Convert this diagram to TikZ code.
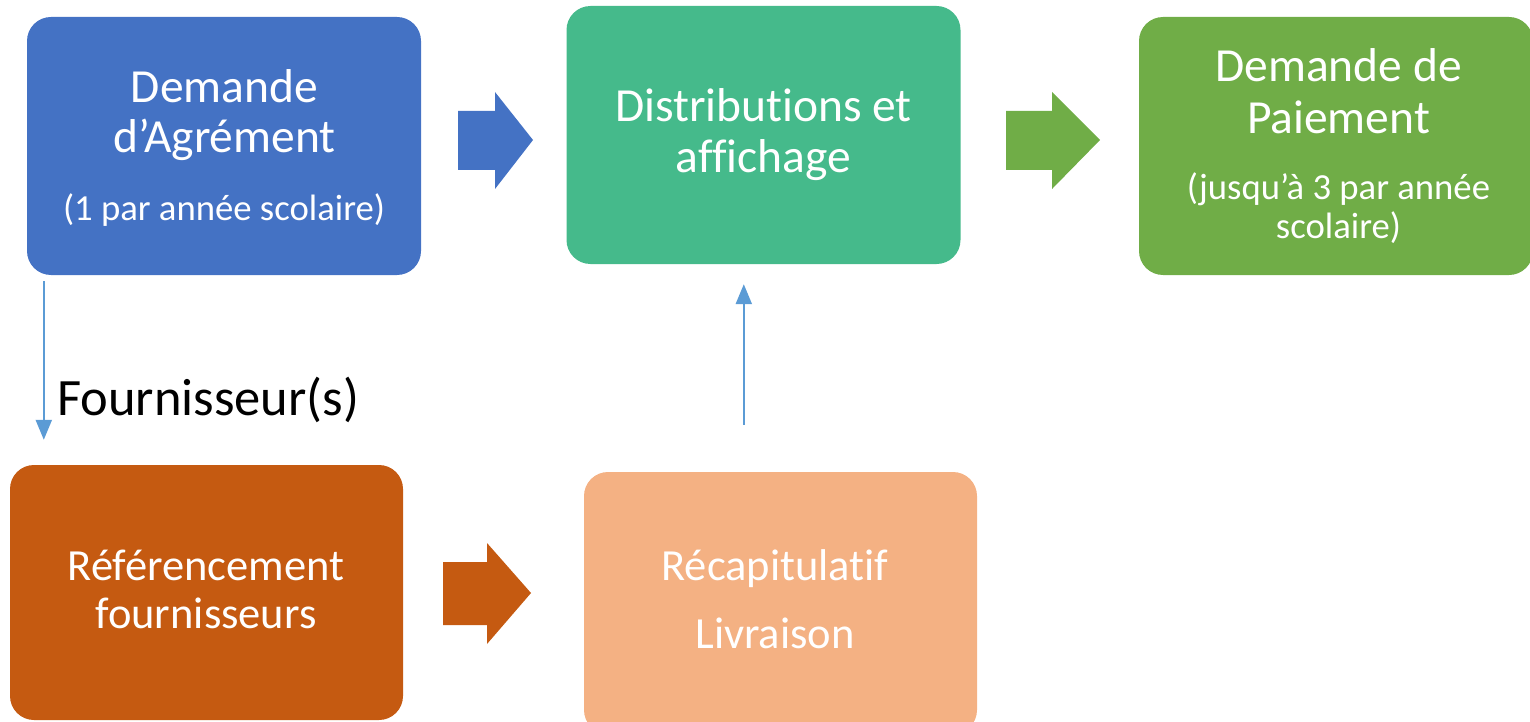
\documentclass[tikz,border=0pt]{standalone}
\usepackage{fontspec}
\setmainfont{Carlito}[Ligatures=NoCommon]
\usetikzlibrary{arrows.meta,calc}
\definecolor{cblue}{HTML}{4472C4}
\definecolor{cteal}{HTML}{45BA8B}
\definecolor{cgreen}{HTML}{70AD47}
\definecolor{corange}{HTML}{C55A11}
\definecolor{clight}{HTML}{F4B183}
\definecolor{cline}{HTML}{5B9BD5}
\tikzset{
  box/.style={rounded corners=24pt, minimum width=394pt, minimum height=258pt, inner sep=0pt},
  big/.style={anchor=base, inner sep=0pt, text=white, font=\fontsize{47.5}{50}\selectfont},
  mid/.style={anchor=base, inner sep=0pt, text=white, font=\fontsize{44.5}{50}\selectfont},
  sml/.style={anchor=base, inner sep=0pt, text=white, font=\fontsize{36.7}{40}\selectfont},
  thinarrow/.style={draw=cline, line width=2.2pt, -{Triangle[width=16pt,length=20pt]}},
}
\begin{document}
\begin{tikzpicture}[x=1pt,y=-1pt]
\useasboundingbox (0,0) rectangle (1530,722);
\node[box, fill=cblue] (dem) at (224,146) {};
\node[big] (dem1) at (224.5,103) {Demande};
\node[big] (dem2) at (224.5,153) {d’Agrément};
\node[sml] (dem3) at (224,220) {(1 par année scolaire)};
\node[box, fill=cteal] (dist) at (763.5,135) {};
\node[big] (dist1) at (763.5,122) {Distributions et};
\node[big] (dist2) at (763.5,172) {affichage};
\node[box, fill=cgreen] (pay) at (1336,146) {};
\node[big] (pay1) at (1338.5,82) {Demande de};
\node[big] (pay2) at (1338.5,134) {Paiement};
\node[sml] (pay3) at (1338.5,200) {(jusqu’à 3 par année};
\node[sml] (pay4) at (1338.5,238) {scolaire)};
\node[box, fill=corange, minimum width=393pt, minimum height=255pt] (ref) at (206.5,592.5) {};
\node[mid] (ref1) at (206,580) {Référencement};
\node[mid] (ref2) at (206,628) {fournisseurs};
\node[box, fill=clight, minimum width=393pt, minimum height=262pt] (recap) at (780.5,603) {};
\node[mid] (recap1) at (775,580) {Récapitulatif};
\node[mid] (recap2) at (775,648) {Livraison};
% block arrows
\fill[cblue] (458,111) -- (495,111) -- (495,92) -- (533,140) -- (495,189) -- (495,170) -- (458,170) -- cycle;
\fill[cgreen] (1006,111) -- (1052,111) -- (1052,92) -- (1100,140) -- (1052,189) -- (1052,170) -- (1006,170) -- cycle;
\fill[corange] (443,562) -- (487,562) -- (487,543) -- (531,593) -- (487,644) -- (487,625) -- (443,625) -- cycle;
% thin arrows
\draw[thinarrow] ($(dem.south west)+(17,6)$) -- ($(ref.north west)+(34,-25)$);
\node[anchor=base west, inner sep=0pt, font=\fontsize{52.5}{60}\selectfont] (four) at (57,415) {Fournisseur(s)};
\draw[thinarrow] ($(recap.north west)+(160,-47)$) -- ($(dist.south west)+(177.5,20)$);
\end{tikzpicture}
\end{document}
